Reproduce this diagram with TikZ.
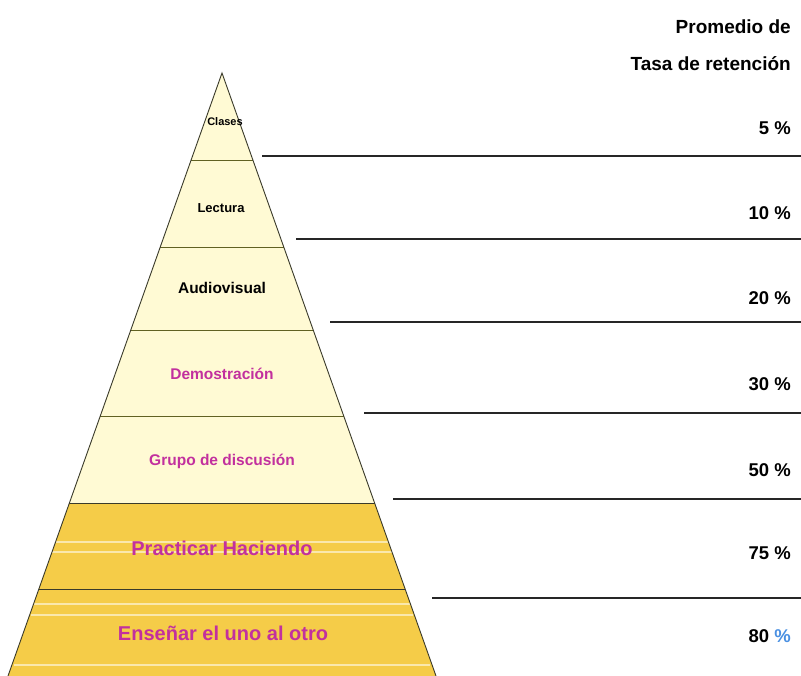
\documentclass[tikz,border=0pt]{standalone}
\usepackage{fontspec}
\setmainfont{Liberation Sans}
\definecolor{paleband}{HTML}{FFFAD4}
\definecolor{goldband}{HTML}{F5CC48}
\definecolor{edgecol}{HTML}{3A3A2A}
\definecolor{magtext}{HTML}{C2309E}
\definecolor{pctblue}{HTML}{4A90E2}
\begin{document}
\begin{tikzpicture}[x=1pt,y=-1pt,
  edgeline/.style={draw=edgecol,line width=0.9pt},
  divline/.style={draw=edgecol!80!yellow,line width=0.9pt},
  ruleline/.style={draw=black!85,line width=1.5pt},
  streak/.style={draw=white,line width=1.3pt,opacity=0.55},
  lvl/.style={font=\bfseries,text=black,inner sep=0pt},
  mlvl/.style={font=\bfseries,text=magtext,inner sep=0pt},
  pct/.style={font=\bfseries\fontsize{18.5}{22}\selectfont,anchor=east,inner sep=0pt},
]
\useasboundingbox (0,0) rectangle (801,676);
\fill[white] (0,0) rectangle (801,676);
% pyramid corner points
\coordinate (A) at (222,73);
\coordinate (L1) at (191.1,160); \coordinate (R1) at (252.9,160);
\coordinate (L2) at (160.2,247); \coordinate (R2) at (283.8,247);
\coordinate (L3) at (130.8,330); \coordinate (R3) at (313.2,330);
\coordinate (L4) at (100.3,416); \coordinate (R4) at (343.7,416);
\coordinate (L5) at (69.4,503);  \coordinate (R5) at (374.6,503);
\coordinate (L6) at (38.9,589);  \coordinate (R6) at (405.1,589);
\coordinate (L7) at (8,676);     \coordinate (R7) at (436,676);
% bands
\fill[paleband] (A) -- (R5) -- (L5) -- cycle;
\fill[goldband] (L5) -- (R5) -- (R7) -- (L7) -- cycle;
% streaks (scan artefacts)
\draw[streak] (55,542) -- (390,542);
\draw[streak] (52,552) -- (393,552);
\draw[streak] (34,604) -- (410,604);
\draw[streak] (31,615) -- (413,615);
\draw[streak] (14,665) -- (430,665);
% dividers
\draw[divline] (L1) -- (R1);
\draw[divline] (L2) -- (R2);
\draw[divline] (L3) -- (R3);
\draw[divline] (L4) -- (R4);
\draw[edgeline] (L5) -- (R5);
\draw[edgeline] (L6) -- (R6);
% edges
\draw[edgeline] (L7) -- (A) -- (R7);
% level labels
\node[lvl,font=\bfseries\fontsize{11}{13}\selectfont] (clases) at (225,122) {Clases};
\node[lvl,font=\bfseries\fontsize{13}{15}\selectfont] (lectura) at (221,208) {Lectura};
\node[lvl,font=\bfseries\fontsize{15.5}{18}\selectfont] (audio) at (222,288) {Audiovisual};
\node[mlvl,font=\bfseries\fontsize{15.5}{18}\selectfont] (demo) at (222,374) {Demostración};
\node[mlvl,font=\bfseries\fontsize{15.5}{18}\selectfont] (grupo) at (222,461) {Grupo de discusión};
\node[mlvl,font=\bfseries\fontsize{20}{24}\selectfont] (practicar) at (222,548) {Practicar Haciendo};
\node[mlvl,font=\bfseries\fontsize{20}{24}\selectfont] (ensenar) at (223,633) {Enseñar el uno al otro};
% header
\node[pct,font=\bfseries\fontsize{19}{22}\selectfont] (head1) at (791,27) {Promedio de};
\node[pct,font=\bfseries\fontsize{19}{22}\selectfont] (head2) at (791,64) {Tasa de retención};
% percentages
\node[pct] (p5) at (791,128) {5 \%};
\node[pct] (p10) at (791,213) {10 \%};
\node[pct] (p20) at (791,298) {20 \%};
\node[pct] (p30) at (791,384) {30 \%};
\node[pct] (p50) at (791,470) {50 \%};
\node[pct] (p75) at (791,553) {75 \%};
\node[pct] (p80) at (791,636) {80 {\color{pctblue}\%}};
% rule lines
\coordinate (s1) at (262,156); \coordinate (e1) at (801,156);
\coordinate (s2) at (296,239); \coordinate (e2) at (801,239);
\coordinate (s3) at (330,322); \coordinate (e3) at (801,322);
\coordinate (s4) at (364,413); \coordinate (e4) at (801,413);
\coordinate (s5) at (393,499); \coordinate (e5) at (801,499);
\coordinate (s6) at (432,598); \coordinate (e6) at (801,598);
\draw[ruleline] (s1) -- (e1);
\draw[ruleline] (s2) -- (e2);
\draw[ruleline] (s3) -- (e3);
\draw[ruleline] (s4) -- (e4);
\draw[ruleline] (s5) -- (e5);
\draw[ruleline] (s6) -- (e6);
\end{tikzpicture}
\end{document}
